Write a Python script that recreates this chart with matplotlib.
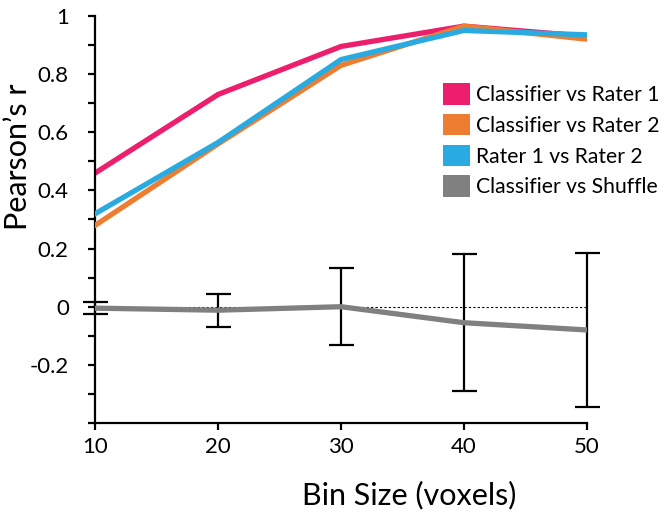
import matplotlib.pyplot as plt
from matplotlib.patches import Patch
from matplotlib.ticker import MultipleLocator

plt.rcParams['font.family'] = ['Lato', 'DejaVu Sans']

bins = [10, 20, 30, 40, 50]
clf_r1 = [0.46, 0.73, 0.895, 0.965, 0.93]
clf_r2 = [0.28, 0.56, 0.83, 0.965, 0.92]
r1_r2 = [0.32, 0.565, 0.85, 0.95, 0.935]
clf_shuffle = [-0.005, -0.012, 0.0, -0.055, -0.08]
shuffle_err = [0.02, 0.057, 0.132, 0.235, 0.265]

labels = ['Classifier vs Rater 1', 'Classifier vs Rater 2',
          'Rater 1 vs Rater 2', 'Classifier vs Shuffle']
colors = ['#ED1E6B', '#ED7D31', '#29ABE2', '#808080']

fig = plt.figure(figsize=(6.66, 5.14), dpi=100)
ax = fig.add_axes([0.143, 0.177, 0.738, 0.792])

ax.plot([10, 50], [0, 0], color='black', lw=0.8, ls=(0, (2, 2)), zorder=1)
ax.plot(bins, clf_r2, color=colors[1], lw=3.8, zorder=3)
ax.plot(bins, r1_r2, color=colors[2], lw=3.8, zorder=4)
ax.plot(bins, clf_r1, color=colors[0], lw=3.8, zorder=2)
eb = ax.errorbar(bins, clf_shuffle, yerr=shuffle_err, color=colors[3], lw=3.8,
                 ecolor='black', elinewidth=1.6, capsize=9, capthick=1.6,
                 zorder=5)
for part in eb.lines[1:]:
    for p in part:
        p.set_clip_on(False)

ax.set_xlim(10, 50)
ax.set_ylim(-0.4, 1)
ax.set_xticks(bins)
ax.set_yticks([-0.2, 0, 0.2, 0.4, 0.6, 0.8, 1])
ax.set_yticklabels(['-0.2', '0', '0.2', '0.4', '0.6', '0.8', '1'])
ax.yaxis.set_minor_locator(MultipleLocator(0.1))

for s in ['top', 'right']:
    ax.spines[s].set_visible(False)
for s in ['left', 'bottom']:
    ax.spines[s].set_linewidth(1.6)
ax.tick_params(which='both', direction='out', length=5, width=1.6,
               labelsize=16, pad=5)
ax.tick_params(axis='y', which='major', pad=14)

ax.set_xlabel('Bin Size (voxels)', fontsize=22)
ax.xaxis.set_label_coords(0.638, -0.142)
ax.set_ylabel('Pearson\u2019s r', fontsize=22)
ax.yaxis.set_label_coords(-0.128, 0.654)

handles = [Patch(facecolor=c) for c in colors]
ax.legend(handles, labels, loc='upper left', bbox_to_anchor=(0.665, 0.8385),
          bbox_transform=fig.transFigure, frameon=False, fontsize=15.2,
          handlelength=1.28, handleheight=1.2, handletextpad=0.3,
          labelspacing=0.42, borderaxespad=0, borderpad=0)

fig.savefig('out.png', dpi=100)
